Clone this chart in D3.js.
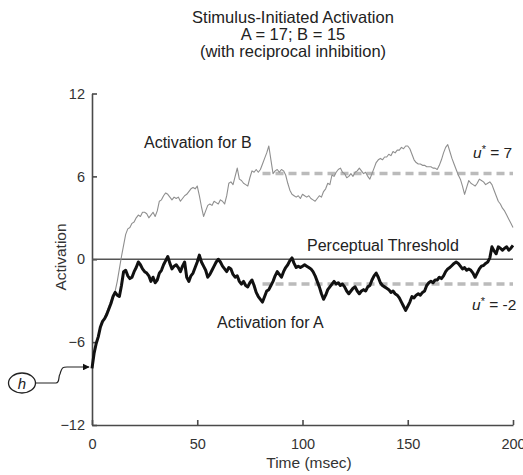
<!DOCTYPE html>
<html><head><meta charset="utf-8">
<script src="https://cdn.jsdelivr.net/npm/d3@7"></script>
<style>
html,body{margin:0;padding:0;background:#fff;}
svg{display:block;font-family:"Liberation Sans",Arial,Helvetica,sans-serif;}
</style></head>
<body><svg id="c" width="523" height="475"></svg>
<script>
// ---- data ----
const titleLines = ["Stimulus-Initiated Activation", "A = 17; B = 15", "(with reciprocal inhibition)"];
const xTicks = [0, 50, 100, 150, 200];
const yTicks = [12, 6, 0, -6, -12];
const startTime = 0; // msec, one sample per msec
const activationB = [-7.8,-7.0,-6.1,-5.5,-5.0,-4.6,-4.2,-3.8,-3.4,-3.0,-2.6,-2.3,-1.6,-0.7,0.2,1.0,1.8,2.2,2.3,2.6,
 2.7,3.0,3.2,3.1,3.4,3.4,3.3,3.0,3.2,3.4,3.1,3.5,4.2,4.3,4.6,4.8,4.7,4.5,4.3,4.5,
 4.4,4.5,4.2,4.4,4.6,4.7,4.9,5.1,5.2,5.1,5.3,4.6,3.8,3.1,3.5,3.9,4.0,3.9,4.2,4.1,
 4.0,4.3,4.2,4.0,4.6,5.5,5.6,5.4,6.0,6.6,5.8,5.7,5.5,5.4,5.3,5.9,6.4,6.3,6.5,6.3,
 6.5,6.9,7.3,7.7,8.2,7.2,6.2,6.4,6.5,6.3,6.5,6.4,6.1,5.5,5.0,4.7,4.6,4.5,4.6,4.4,
 4.7,4.6,4.5,4.6,4.4,4.3,4.2,4.4,4.6,4.5,4.9,5.1,5.5,5.4,6.1,6.0,6.3,6.5,6.6,6.3,
 6.2,5.9,6.0,6.2,6.0,6.3,6.4,6.6,6.4,6.2,6.3,6.0,5.8,6.2,6.6,7.0,7.2,7.3,7.2,7.4,
 7.4,7.6,7.5,7.8,7.7,7.9,7.9,8.1,8.0,8.2,8.2,8.0,7.6,7.2,7.0,6.9,6.9,6.8,6.8,6.7,
 6.7,6.7,6.6,6.6,6.5,6.8,7.2,7.7,8.1,8.3,7.8,7.3,6.9,6.5,6.1,5.8,5.3,4.7,5.2,5.7,
 5.5,5.4,5.3,5.5,5.8,5.7,5.6,5.4,5.5,5.6,5.4,5.0,4.6,4.2,4.0,3.7,3.5,3.2,2.9,2.6,2.3];
const activationA = [-7.9,-6.8,-6.1,-5.6,-4.9,-4.5,-4.3,-4.0,-3.6,-3.2,-2.7,-2.4,-2.6,-2.7,-1.9,-0.9,-0.8,-1.2,-1.4,-1.3,
 -0.9,-0.6,-0.2,-0.4,-0.7,-0.9,-1.0,-1.2,-1.6,-1.3,-1.7,-1.5,-1.0,-0.8,-0.4,-0.1,0.2,-0.3,-0.7,-0.5,
 -0.4,-0.6,-0.9,-0.5,-0.2,-1.3,-1.6,-1.2,-1.0,-0.6,-0.2,0.3,-0.2,-0.5,-0.8,-1.3,-1.1,-0.8,-0.5,-0.2,
 0.0,-0.2,-0.5,-0.7,-0.9,-0.6,-0.7,-1.1,-1.3,-1.2,-1.6,-1.8,-1.6,-1.9,-2.0,-1.7,-1.5,-1.9,-2.4,-2.7,
 -2.9,-3.1,-2.7,-2.3,-2.2,-1.9,-1.6,-1.2,-0.9,-1.1,-1.3,-0.9,-0.6,-0.4,-0.1,0.1,-0.3,-0.6,-0.5,-0.6,
 -0.5,-0.4,-0.5,-0.6,-0.7,-0.9,-1.2,-1.6,-2.0,-2.5,-2.9,-2.6,-2.2,-2.0,-1.8,-1.6,-1.8,-1.7,-1.9,-1.8,
 -2.0,-2.3,-2.5,-2.3,-2.1,-2.0,-2.3,-2.5,-2.3,-2.2,-2.3,-2.0,-1.9,-1.5,-1.2,-1.0,-1.3,-1.7,-1.9,-2.0,
 -2.1,-2.2,-2.4,-2.3,-2.5,-2.6,-2.8,-3.1,-3.4,-3.7,-3.4,-3.1,-2.7,-2.8,-2.6,-2.5,-2.6,-2.4,-2.3,-1.9,
 -1.7,-1.6,-1.7,-1.5,-1.5,-1.3,-1.4,-1.2,-0.9,-0.7,-0.6,-0.45,-0.3,-0.2,-0.3,-0.5,-0.7,-0.6,-0.8,-0.7,
 -0.8,-1.0,-1.3,-1.0,-0.7,-0.5,-0.45,-0.3,-0.2,0.1,0.9,0.6,0.4,0.9,0.8,0.65,0.8,0.9,0.65,0.8,1.0];
const thresholdLevel = 0;
const dashStart = 81;          // msec where the u* lines begin
const dashLevelB = 6.2;        // drawn level of u* for B
const dashLevelA = -1.8;       // drawn level of u* for A
const uStarLabels = ["7", "-2"];
const restingLevel = -7.8;     // h

// ---- chart ----
const svg = d3.select("#c");
const x = d3.scaleLinear().domain([0, 200]).range([92, 513]);
const y = d3.scaleLinear().domain([-12, 12]).range([425, 93.5]);
const axisCol = "#4a4a4a";

// title
svg.append("g").selectAll("text").data(titleLines).join("text")
  .attr("x", 293).attr("y", (d, i) => 23 + i * 17)
  .attr("text-anchor", "middle").attr("font-size", 16.5).attr("fill", "#222")
  .text(d => d);

// axes
const gx = svg.append("g").attr("transform", `translate(0,${y(-12)})`)
  .call(d3.axisBottom(x).tickValues(xTicks).tickSizeInner(-5).tickSizeOuter(0).tickFormat(d3.format("d")));
gx.selectAll("text").attr("y", 24).attr("dy", 0).attr("font-size", 14.5).attr("fill", "#333");
const gy = svg.append("g").attr("transform", `translate(${x(0)},0)`)
  .call(d3.axisLeft(y).tickValues(yTicks).tickSizeInner(-5).tickSizeOuter(0).tickFormat(d3.format("d")));
gy.selectAll("text").attr("x", -7).attr("font-size", 14.5).attr("fill", "#333");
[gx, gy].forEach(g => {
  g.attr("font-family", null);
  g.select(".domain").attr("stroke", axisCol).attr("stroke-width", 1.6);
  g.selectAll(".tick line").attr("stroke", axisCol).attr("stroke-width", 1.6);
});

svg.append("text").attr("x", 309).attr("y", 468).attr("text-anchor", "middle")
  .attr("font-size", 15.5).attr("fill", "#333").text("Time (msec)");
svg.append("text").attr("transform", "translate(66,257) rotate(-90)").attr("text-anchor", "middle")
  .attr("font-size", 15.5).attr("fill", "#333").text("Activation");

// dashed u* lines
[dashLevelB, dashLevelA].forEach(v => {
  svg.append("line").attr("x1", x(dashStart)).attr("x2", x(200))
    .attr("y1", y(v)).attr("y2", y(v))
    .attr("stroke", "#bbbbbb").attr("stroke-width", 3.5).attr("stroke-dasharray", "8,5");
});

// threshold line
svg.append("line").attr("x1", x(0)).attr("x2", x(200)).attr("y1", y(thresholdLevel)).attr("y2", y(thresholdLevel))
  .attr("stroke", "#555").attr("stroke-width", 1.6);

const line = d3.line().x((d, i) => x(startTime + i)).y(d => y(d));
svg.append("path").datum(activationB).attr("d", line).attr("fill", "none")
  .attr("stroke", "#8f8f8f").attr("stroke-width", 1.1).attr("stroke-linejoin", "round");
svg.append("path").datum(activationA).attr("d", line).attr("fill", "none")
  .attr("stroke", "#111").attr("stroke-width", 3).attr("stroke-linejoin", "round");

// labels
const lab = (t, px, py, anchor) => svg.append("text").attr("x", px).attr("y", py)
  .attr("text-anchor", anchor || "start").attr("font-size", 16).attr("fill", "#222").text(t);
lab("Activation for B", 144, 148);
lab("Perceptual Threshold", 307, 251);
lab("Activation for A", 217, 328);

function uLabel(px, py, val) {
  const t = svg.append("text").attr("x", px).attr("y", py).attr("font-size", 15.5).attr("fill", "#222");
  t.append("tspan").attr("font-style", "italic").text("u");
  t.append("tspan").attr("dy", -5).attr("font-size", 11).text("*");
  t.append("tspan").attr("dy", 5).text(" = " + val);
}
uLabel(473, 158, uStarLabels[0]);
uLabel(472, 310, uStarLabels[1]);

// h marker with arrow
svg.append("defs").append("marker").attr("id", "ah").attr("viewBox", "0 0 10 10")
  .attr("refX", 9).attr("refY", 5).attr("markerWidth", 7).attr("markerHeight", 7)
  .attr("markerUnits", "userSpaceOnUse").attr("orient", "auto")
  .append("path").attr("d", "M0,0L10,5L0,10z").attr("fill", "#111");
svg.append("ellipse").attr("cx", 22).attr("cy", 383).attr("rx", 13.5).attr("ry", 10)
  .attr("fill", "#fff").attr("stroke", "#222").attr("stroke-width", 1.3);
svg.append("text").attr("x", 22).attr("y", 388.5).attr("text-anchor", "middle")
  .attr("font-size", 15).attr("font-style", "italic").attr("fill", "#222").text("h");
const hy = y(restingLevel);
svg.append("path")
  .attr("d", `M35.5,383 H56 C60,383 58,377 60,374 C62,${hy} 63,${hy} 67,${hy} H${x(0) - 3}`)
  .attr("fill", "none").attr("stroke", "#222").attr("stroke-width", 1.2).attr("marker-end", "url(#ah)");
</script></body></html>
